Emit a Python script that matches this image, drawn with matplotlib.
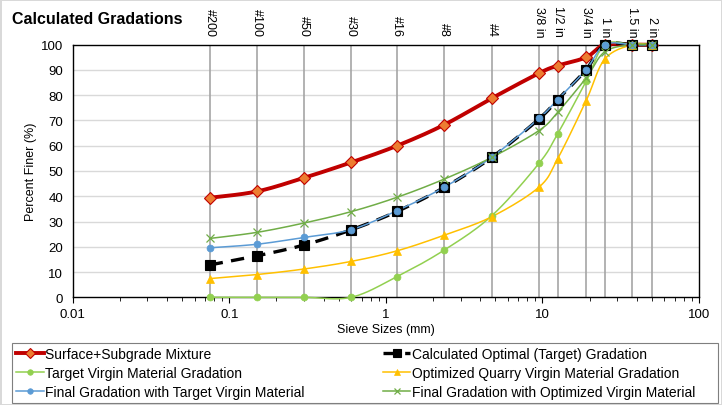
import numpy as np
import matplotlib
matplotlib.use("Agg")
import matplotlib.pyplot as plt
from matplotlib.lines import Line2D
from matplotlib.patches import Rectangle

plt.rcParams['font.family'] = ['Liberation Sans', 'DejaVu Sans']

# ---------------- data ----------------
sieve_labels = ["#200", "#100", "#50", "#30", "#16", "#8", "#4",
                "3/8 in", "1/2 in", "3/4 in", "1 in", "1.5 in", "2 in"]
sieve_mm = [0.075, 0.15, 0.3, 0.6, 1.18, 2.36, 4.75, 9.5, 12.5, 19, 25, 37.5, 50]

surface_subgrade = [39.4, 41.9, 47.3, 53.4, 60.0, 68.3, 78.8, 88.7, 91.7, 95.0, 100, 100, 100]
calc_optimal = [12.8, 16.4, 20.7, 26.7, 34.0, 43.5, 55.4, 70.6, 78.2, 90.1, 100, 100, 100]
target_virgin = [0, 0, 0, 0, 8.2, 18.7, 32.3, 53.0, 64.7, 85.5, 100, 100, 100]
optimized_quarry = [7.4, 9.0, 11.2, 14.2, 18.4, 24.6, 31.9, 43.6, 54.8, 77.8, 94.3, 100, 100]
final_target = [19.6, 21.0, 23.7, 26.8, 34.3, 43.6, 55.5, 70.8, 78.3, 90.1, 100, 100, 100]
final_optimized = [23.3, 25.7, 29.4, 33.9, 39.6, 46.8, 55.4, 66.0, 73.2, 86.8, 97.2, 100, 100]

series_names = ["Surface+Subgrade Mixture",
                "Calculated Optimal (Target) Gradation",
                "Target Virgin Material Gradation",
                "Optimized Quarry Virgin Material Gradation",
                "Final Gradation with Target Virgin Material",
                "Final Gradation with Optimized Virgin Material"]
series_values = [surface_subgrade, calc_optimal, target_virgin,
                 optimized_quarry, final_target, final_optimized]

styles = [
    dict(color="#C00000", lw=2.8, marker="D", ms=6.5, mfc="#ED7D31", mec="#C00000", mew=0.8, ls="-"),
    dict(color="#000000", lw=2.4, marker="s", ms=6.5, mfc="#000000", mec="#000000", mew=0.8, ls=(0, (4, 2.5))),
    dict(color="#92D050", lw=1.1, marker="o", ms=5, mfc="#92D050", mec="#92D050", mew=0.5, ls="-"),
    dict(color="#FFC000", lw=1.1, marker="^", ms=6, mfc="#FFC000", mec="#FFC000", mew=0.5, ls="-"),
    dict(color="#5B9BD5", lw=1.1, marker="o", ms=5, mfc="#5B9BD5", mec="#5B9BD5", mew=0.5, ls="-"),
    dict(color="#70AD47", lw=1.1, marker="x", ms=5.5, mfc="#70AD47", mec="#70AD47", mew=0.9, ls="-"),
]

# ---------------- figure ----------------
W, H = 722, 406
fig = plt.figure(figsize=(W / 100, H / 100), dpi=100)
fig.patch.set_facecolor("white")
fig.patch.set_edgecolor("#D9D9D9")
fig.patch.set_linewidth(1.0)

L, R, T, B = 72.7, 699, 45.7, 298.3
ax = fig.add_axes([L / W, 1 - B / H, (R - L) / W, (B - T) / H])
ax.set_xscale("log")
ax.set_xlim(0.01, 100)
ax.set_ylim(0, 100)


def smooth(xs, ys, n=20):
    """Excel-like smoothed curve (Catmull-Rom Bezier) computed in display-like space."""
    u = np.log10(np.asarray(xs, float)) * 156.6
    v = np.asarray(ys, float) * 2.526
    P = np.column_stack([u, v])
    out = [P[0]]
    for i in range(len(P) - 1):
        p0 = P[i - 1] if i > 0 else P[i]
        p1 = P[i]
        p2 = P[i + 1]
        p3 = P[i + 2] if i + 2 < len(P) else P[i + 1]
        c1 = p1 + (p2 - p0) / 6.0
        c2 = p2 - (p3 - p1) / 6.0
        t = np.linspace(0, 1, n)[1:, None]
        seg = ((1 - t) ** 3) * p1 + 3 * ((1 - t) ** 2) * t * c1 + 3 * (1 - t) * t ** 2 * c2 + t ** 3 * p2
        out.extend(seg)
    out = np.array(out)
    return 10 ** (out[:, 0] / 156.6), out[:, 1] / 2.526


# grid
for yv in range(10, 100, 10):
    ax.axhline(yv, color="#D9D9D9", lw=1.0, zorder=0)
for xv in sieve_mm:
    ax.plot([xv, xv], [0, 100], color="#A5A5A5", lw=1.2, zorder=1)

handles = []
for name, vals, st in zip(series_names, series_values, styles):
    sx, sy = smooth(sieve_mm, vals)
    ax.plot(sx, sy, color=st["color"], lw=st["lw"], ls=st["ls"], zorder=3, clip_on=False)
    ax.plot(sieve_mm, vals, ls="none", marker=st["marker"], ms=st["ms"], mfc=st["mfc"],
            mec=st["mec"], mew=st["mew"], zorder=4, clip_on=False)
    handles.append(Line2D([], [], color=st["color"], lw=st["lw"], ls=st["ls"],
                          marker=st["marker"], ms=st["ms"] * 0.8, mfc=st["mfc"],
                          mec=st["mec"], mew=st["mew"], label=name))

for sp in ax.spines.values():
    sp.set_color("black")
    sp.set_linewidth(1.0)

ax.set_yticks(range(0, 101, 10))
ax.tick_params(axis="y", length=0, labelsize=9.5, pad=7, colors="black")
ax.set_xticks([0.01, 0.1, 1, 10, 100])
ax.set_xticklabels(["0.01", "0.1", "1", "10", "100"])
ax.tick_params(axis="x", which="major", direction="out", length=4, labelsize=9.5, pad=4)
ax.tick_params(axis="x", which="minor", direction="out", length=3, labelbottom=False)
ax.set_xlabel("Sieve Sizes (mm)", fontsize=9, labelpad=2)
ax.set_ylabel("Percent Finer (%)", fontsize=9, labelpad=3)

# top sieve labels
sec = ax.secondary_xaxis("top")
sec.set_xticks(sieve_mm)
sec.set_xticklabels(sieve_labels, rotation=-90, fontsize=9)
sec.tick_params(length=0, pad=6)
sec.xaxis.set_minor_locator(matplotlib.ticker.NullLocator())
sec.spines["top"].set_visible(False)

fig.text(12 / W, 1 - 19 / H, "Calculated Gradations", fontsize=11.5, fontweight="bold",
         va="center", ha="left")

# legend (row-wise order as in reference), frame drawn as a separate box
order = [0, 2, 4, 1, 3, 5]
leg = fig.legend([handles[i] for i in order], [series_names[i] for i in order],
                 loc="lower left", bbox_to_anchor=(12 / W, 2 / H),
                 ncol=2, fontsize=10, frameon=False,
                 handlelength=2.0, handletextpad=0.1, borderpad=0.3, labelspacing=0.35,
                 columnspacing=5.6, borderaxespad=0)
fig.patches.append(Rectangle((12 / W, 2 / H), 706 / W, 60 / H, transform=fig.transFigure,
                             fill=False, edgecolor="#7F7F7F", linewidth=0.8))

fig.savefig("out.png", dpi=100)
